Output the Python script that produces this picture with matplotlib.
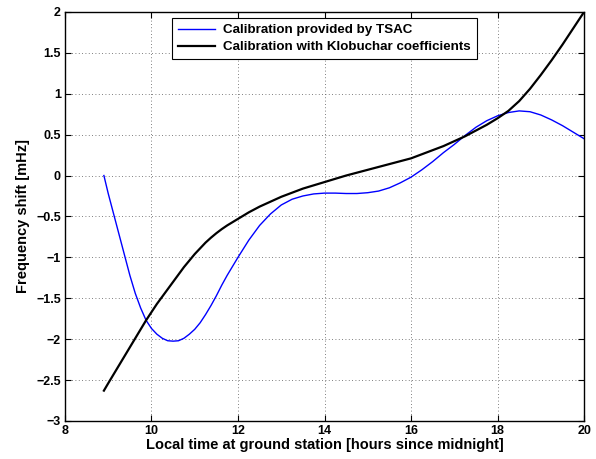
import matplotlib

matplotlib.use("Agg")
import matplotlib.pyplot as plt  # noqa: E402

# 지상국 현지 시각 [h]
hours = [8.9, 9.0, 9.125, 9.25, 9.375, 9.5, 9.625, 9.75, 9.875, 10.0,
         10.125, 10.25, 10.375, 10.5, 10.625, 10.75, 10.875, 11.0, 11.125,
         11.25, 11.375, 11.5, 11.625, 11.75, 11.875, 12.0,
         12.25, 12.5, 12.75, 13.0, 13.25, 13.5, 13.75, 14.0, 14.25, 14.5,
         14.75, 15.0, 15.25, 15.5, 15.75, 16.0, 16.25, 16.5, 16.75, 17.0,
         17.25, 17.5, 17.75, 18.0, 18.25, 18.5, 18.75, 19.0, 19.25, 19.5,
         19.75, 20.0]

# TSAC 제공 보정값 [mHz]
tsac_shift = [0.0, -0.22, -0.47, -0.72, -0.97, -1.22, -1.44, -1.62, -1.77,
              -1.87, -1.94, -1.99, -2.02, -2.025, -2.02, -1.99, -1.94, -1.88,
              -1.80, -1.70, -1.59, -1.47, -1.34, -1.22, -1.11, -1.0,
              -0.79, -0.61, -0.47, -0.36, -0.29, -0.25, -0.225, -0.215,
              -0.215, -0.22, -0.22, -0.21, -0.19, -0.15, -0.09, -0.02,
              0.07, 0.17, 0.28, 0.38, 0.49, 0.59, 0.67, 0.73, 0.77, 0.79,
              0.78, 0.74, 0.68, 0.61, 0.53, 0.45]

# Klobuchar 계수 기반 보정값 [mHz]
klobuchar_shift = [-2.63, -2.54, -2.43, -2.32, -2.21, -2.10, -1.99, -1.88,
                   -1.77, -1.67, -1.57, -1.48, -1.39, -1.30, -1.21, -1.12,
                   -1.04, -0.96, -0.89, -0.82, -0.76, -0.705, -0.655, -0.61,
                   -0.57, -0.53,
                   -0.45, -0.38, -0.32, -0.26, -0.21, -0.16, -0.12, -0.08,
                   -0.04, 0.0, 0.035, 0.07, 0.105, 0.14, 0.175, 0.21,
                   0.26, 0.31, 0.36, 0.42, 0.48, 0.55, 0.62, 0.70, 0.79, 0.91,
                   1.06, 1.23, 1.41, 1.60, 1.80, 2.0]

xticks = [8, 10, 12, 14, 16, 18, 20]
yticks = [-3, -2.5, -2, -1.5, -1, -0.5, 0, 0.5, 1, 1.5, 2]
ytick_labels = ["\u22123", "\u22122.5", "\u22122", "\u22121.5", "\u22121",
                "\u22120.5", "0", "0.5", "1", "1.5", "2"]

plt.rcParams["font.family"] = ["Liberation Sans", "DejaVu Sans"]
plt.rcParams["font.weight"] = "bold"

fig = plt.figure(figsize=(5.96, 4.59), dpi=100)
ax = fig.add_axes([0.109, 0.083, 0.871, 0.891])

ax.plot(hours, tsac_shift, color="#0000ff", linewidth=1.0,
        label="Calibration provided by TSAC")
ax.plot(hours, klobuchar_shift, color="black", linewidth=1.6,
        label="Calibration with Klobuchar coefficients")

ax.set_xlim(8, 20)
ax.set_ylim(-3, 2)
ax.set_xticks(xticks)
ax.set_yticks(yticks)
ax.set_yticklabels(ytick_labels)
ax.tick_params(direction="in", top=True, right=True, length=4, width=0.8,
               labelsize=9, pad=3)
for lbl in ax.get_xticklabels() + ax.get_yticklabels():
    lbl.set_fontweight("bold")
for sp in ax.spines.values():
    sp.set_linewidth(1.0)

ax.grid(True, linestyle=(0, (1, 3)), color="#555555", linewidth=0.6)

ax.set_xlabel("Local time at ground station [hours since midnight]",
              fontsize=10.5, fontweight="bold", labelpad=1)
ax.set_ylabel("Frequency shift [mHz]", fontsize=10.5, fontweight="bold",
              labelpad=4)

leg = ax.legend(loc="upper left", bbox_to_anchor=(0.206, 0.985),
                fontsize=9.6, frameon=True, fancybox=False, framealpha=1,
                edgecolor="black", handlelength=2.8, handletextpad=0.6,
                borderpad=0.45, labelspacing=0.35, borderaxespad=0)
leg.get_frame().set_linewidth(0.8)
for t in leg.get_texts():
    t.set_fontweight("bold")

fig.savefig("out.png", dpi=100, facecolor="white")
